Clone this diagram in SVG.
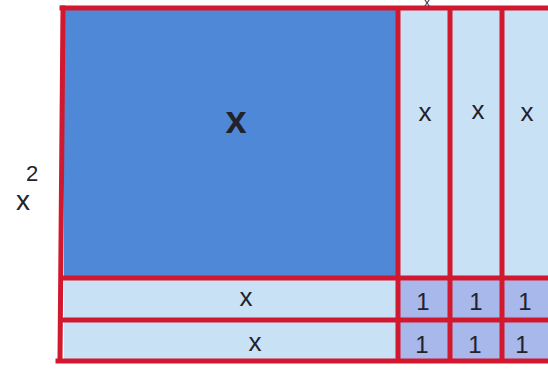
<svg xmlns="http://www.w3.org/2000/svg" width="548" height="372" viewBox="0 0 548 372">
<style>
.red{stroke:#d2182e;stroke-width:5;fill:none;stroke-linecap:square}
.t{font-family:"Liberation Sans",sans-serif;fill:#22222c;text-anchor:middle}
.strip{fill:#c9e1f4}
.unit{fill:#a8b8ea}
</style>
<rect width="548" height="372" fill="#ffffff"/>
<g id="big-square">
<rect x="64" y="10" width="334" height="268" fill="#4f88d6"/>
<text class="t" x="236" y="133" font-size="38" font-weight="bold">x</text>
</g>
<g id="col-strips">
<rect class="strip" x="398" y="10" width="52" height="268"/>
<rect class="strip" x="450" y="10" width="52" height="268"/>
<rect class="strip" x="502" y="10" width="50" height="268"/>
<text class="t" x="425" y="121" font-size="26">x</text>
<text class="t" x="478" y="119" font-size="26">x</text>
<text class="t" x="527" y="121" font-size="26">x</text>
</g>
<g id="row-strips">
<rect class="strip" x="64" y="278" width="334" height="42"/>
<rect class="strip" x="64" y="320" width="334" height="40"/>
<text class="t" x="246" y="306" font-size="26">x</text>
<text class="t" x="255" y="351" font-size="26">x</text>
</g>
<g id="units">
<rect class="unit" x="398" y="278" width="52" height="42"/>
<rect class="unit" x="450" y="278" width="52" height="42"/>
<rect class="unit" x="502" y="278" width="50" height="42"/>
<rect class="unit" x="398" y="320" width="52" height="40"/>
<rect class="unit" x="450" y="320" width="52" height="40"/>
<rect class="unit" x="502" y="320" width="50" height="40"/>
<text class="t" x="423" y="310" font-size="24">1</text>
<text class="t" x="476" y="310" font-size="24">1</text>
<text class="t" x="525" y="310" font-size="24">1</text>
<text class="t" x="422" y="353" font-size="24">1</text>
<text class="t" x="475" y="353" font-size="24">1</text>
<text class="t" x="522" y="353" font-size="24">1</text>
</g>
<g id="connectors">
<line class="red" x1="62" y1="8" x2="548" y2="8"/>
<line class="red" x1="63" y1="8" x2="60" y2="360"/>
<line class="red" x1="58" y1="361" x2="548" y2="361"/>
<line class="red" x1="64" y1="278" x2="548" y2="278"/>
<line class="red" x1="64" y1="320" x2="548" y2="320"/>
<line class="red" x1="398" y1="10" x2="398" y2="360"/>
<line class="red" x1="450" y1="10" x2="450" y2="360"/>
<line class="red" x1="502" y1="10" x2="502" y2="360"/>
</g>
<g id="label-x2">
<text class="t" x="32" y="181" font-size="22">2</text>
<text class="t" x="23" y="210" font-size="28">x</text>
</g>
<g id="top-label">
<text class="t" x="427" y="6" font-size="11">x</text>
</g>
</svg>
